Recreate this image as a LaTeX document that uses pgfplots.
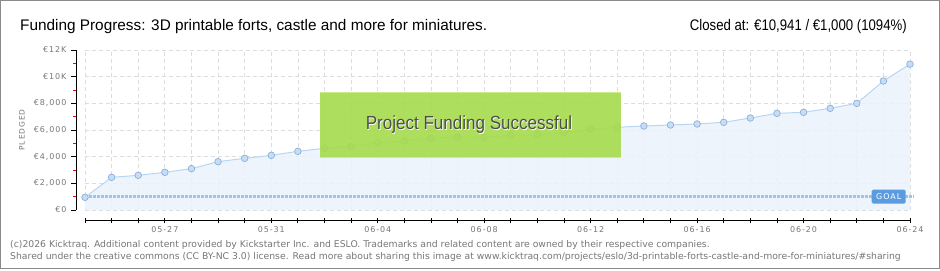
\documentclass[border=0pt]{standalone}
\usepackage{pgfplots}
\pgfplotsset{compat=1.18}
\usepackage{fontspec}
\setmainfont{DejaVu Sans}
\newfontfamily\titlefont{Liberation Sans}
\newfontfamily\closedfont[FakeStretch=0.86]{Liberation Sans}
\newfontfamily\bannerfont[FakeStretch=0.9]{Liberation Sans}
\newfontfamily\tickfont[LetterSpace=12]{DejaVu Sans}
\newfontfamily\footfont{DejaVu Sans}
\definecolor{framegray}{HTML}{8A8A8A}
\definecolor{ticktext}{HTML}{777777}
\definecolor{gridc}{HTML}{DDDDDD}
\definecolor{areafill}{HTML}{EAF3FC}
\definecolor{linec}{HTML}{B8D6F4}
\definecolor{markfill}{HTML}{C4DEF8}
\definecolor{markdraw}{HTML}{8EAFD6}
\definecolor{goalc}{HTML}{A2C3E8}
\definecolor{goalbox}{HTML}{5B9CE0}
\definecolor{boxgreen}{HTML}{A6DB4C}
\definecolor{boxedge}{HTML}{C9EC8E}
\definecolor{boxtext}{HTML}{4D4D4D}
\begin{document}
\begin{tikzpicture}[x=1bp,y=1bp]
\path[use as bounding box] (0,0) rectangle (940,270);
\fill[white] (0,0) rectangle (940,270);
\begin{axis}[
  at={(85bp,60bp)}, anchor=south west,
  scale only axis, width=825bp, height=160bp,
  xmin=0, xmax=31, ymin=0, ymax=12000,
  clip=false,
  scaled y ticks=false,
  axis x line=bottom, axis y line=left,
  axis x line shift=10bp, axis y line shift=9bp,
  axis line style={-, black, line width=0.9bp},
  xtick={0,...,31},
  xticklabels={,,,05-27,,,,05-31,,,,06-04,,,,06-08,,,,06-12,,,,06-16,,,,06-20,,,,06-24},
  xtick align=center,
  ytick={0,2000,4000,6000,8000,10000,12000},
  yticklabels={€0,{€2,000},{€4,000},{€6,000},{€8,000},€10K,€12K},
  minor ytick={1000,3000,5000,7000,9000,11000},
  ytick align=outside,
  major tick length=5bp, minor tick length=3bp,
  major tick style={black, line width=0.9bp},
  minor tick style={red, line width=0.9bp},
  tick label style={font=\tickfont\fontsize{8}{9}\selectfont, text=ticktext},
  xticklabel style={yshift=-1bp},
  yticklabel style={xshift=-1bp},
  xmajorgrids, ymajorgrids,
  grid style={gridc, line width=0.8bp, dash pattern=on 4bp off 3bp},
]
\addplot[draw=none, fill=areafill, fill opacity=0.85] coordinates {
(0,950) (1,2450) (2,2600) (3,2825) (4,3100) (5,3625) (6,3875) (7,4100)
(8,4400) (9,4625) (10,4750) (11,5050) (12,5175) (13,5375) (14,5475) (15,5450)
(16,5600) (17,5650) (18,5825) (19,6075) (20,6200) (21,6300) (22,6375) (23,6450)
(24,6575) (25,6900) (26,7250) (27,7325) (28,7625) (29,8000) (30,9675) (31,10941)
} \closedcycle;
\addplot[goalc, line width=2.6bp, dash pattern=on 2.6bp off 1.4bp] coordinates {(0,1000) (31.15,1000)};
\addplot[linec, line width=1bp, mark=*, mark size=3.3bp,
  mark options={fill=markfill, draw=markdraw, line width=0.7bp}] coordinates {
(0,950) (1,2450) (2,2600) (3,2825) (4,3100) (5,3625) (6,3875) (7,4100)
(8,4400) (9,4625) (10,4750) (11,5050) (12,5175) (13,5375) (14,5475) (15,5450)
(16,5600) (17,5650) (18,5825) (19,6075) (20,6200) (21,6300) (22,6375) (23,6450)
(24,6575) (25,6900) (26,7250) (27,7325) (28,7625) (29,8000) (30,9675) (31,10941)
};
\node[fill=goalbox, text=white, rounded corners=1.5bp, minimum width=34bp, minimum height=14bp, inner sep=0pt,
  font=\tickfont\fontsize{8}{9}\selectfont] at (axis cs:30.2,1000) {GOAL};
\end{axis}
% y label
\node[rotate=90, text=ticktext, inner sep=0pt, font=\tickfont\fontsize{7.5}{9}\selectfont] at (22,140) {PLEDGED};
% green banner
\fill[boxgreen, opacity=0.9] (320,112) rectangle (621,178);
\draw[boxedge, line width=1.2bp] (320,177.6) -- (621,177.6);
\draw[boxedge, line width=1.2bp] (320,112.4) -- (621,112.4);
\node[text=white, font=\bannerfont\fontsize{19}{22}\selectfont] at (469.7,144.3) {Project Funding Successful};
\node[text=boxtext, font=\bannerfont\fontsize{19}{22}\selectfont] at (469,145) {Project Funding Successful};
% title
\node[anchor=base west, inner sep=0pt, text=black, font=\titlefont\fontsize{15.4}{19}\selectfont] at (20,240) {Funding Progress: 3D printable forts, castle and more for miniatures.};
\node[anchor=base east, inner sep=0pt, text=black, font=\closedfont\fontsize{15.4}{19}\selectfont] at (907,240) {Closed at: €10,941 / €1,000 (1094\%)};
% footer
\node[anchor=base west, inner sep=0pt, text=ticktext, font=\footfont\fontsize{9.3}{11}\selectfont] at (10,22.5) {(c)2026 Kicktraq. Additional content provided by Kickstarter Inc. and ESLO. Trademarks and related content are owned by their respective companies.};
\node[anchor=base west, inner sep=0pt, text=ticktext, font=\footfont\fontsize{9.3}{11}\selectfont] at (10,10.5) {Shared under the creative commons (CC BY-NC 3.0) license. Read more about sharing this image at www.kicktraq.com/projects/eslo/3d-printable-forts-castle-and-more-for-miniatures/\#sharing};
% frame
\draw[framegray, line width=1.4bp] (0.7,1.5) rectangle (939.3,269.3);
\end{tikzpicture}
\end{document}
